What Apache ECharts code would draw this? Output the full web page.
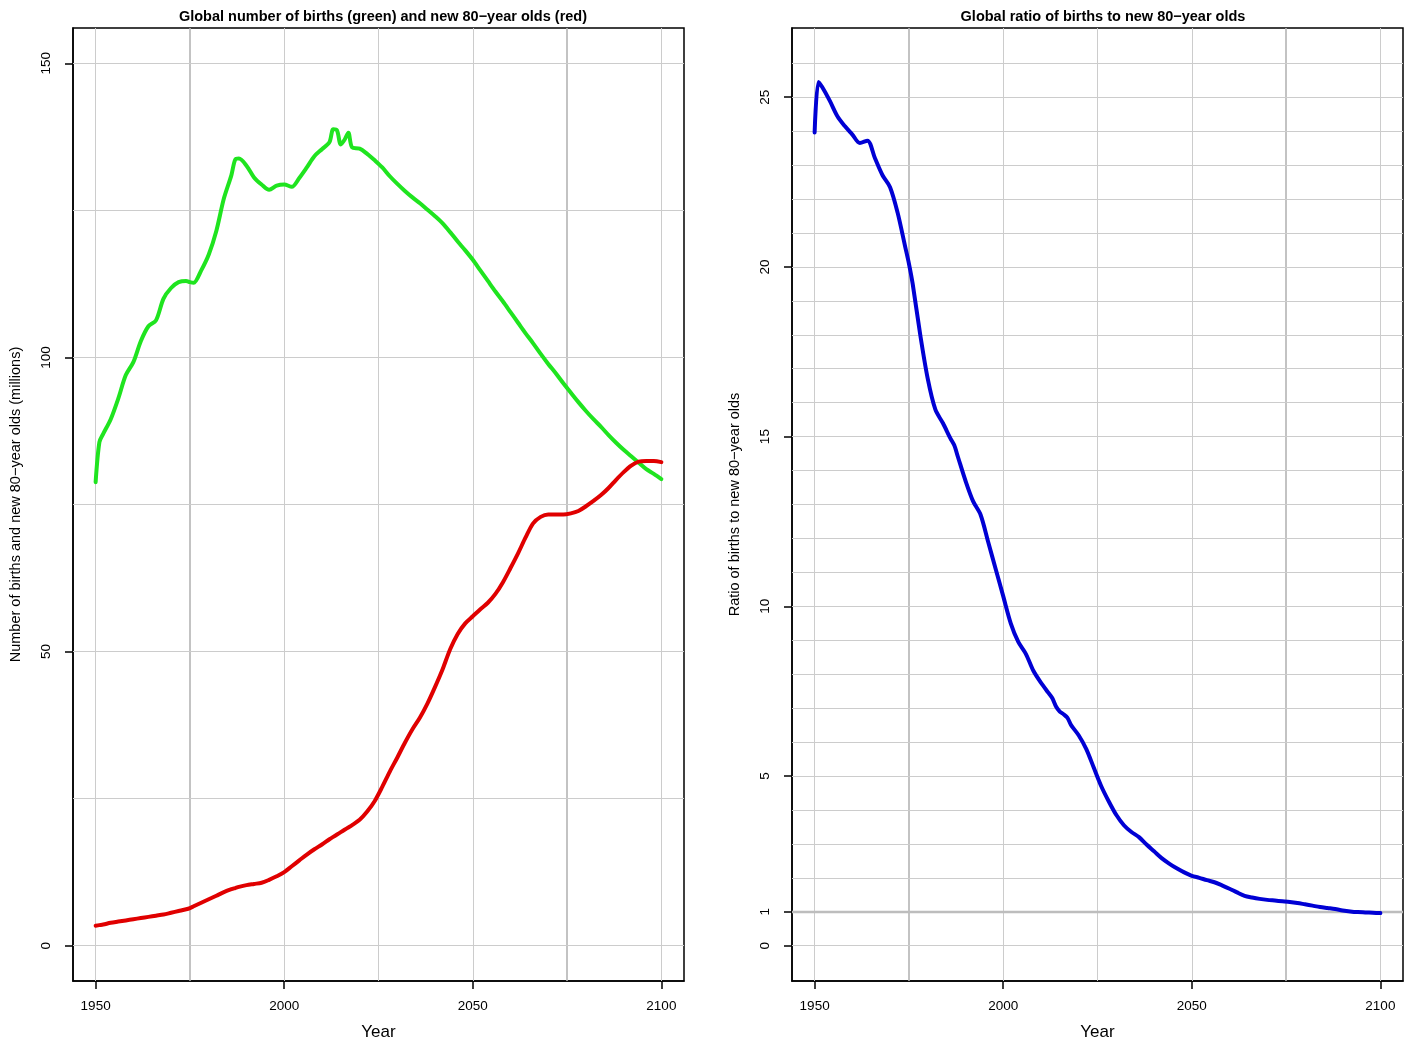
<!DOCTYPE html>
<html>
<head>
<meta charset="utf-8">
<script src="https://cdn.jsdelivr.net/npm/echarts@6/dist/echarts.min.js"></script>
<style>
html,body{margin:0;padding:0;background:#fff;}
#chart{width:1415px;height:1046px;}
</style>
</head>
<body>
<div id="chart"></div>
<script>
// ---- data ----
const years = [1950,1951,1952,1954,1956,1958,1960,1962,1964,1966,1968,1970,1972,1974,1975,1976,1978,1980,1982,1984,1986,1987,1988,1990,1992,1994,1996,1998,2000,2002,2004,2006,2008,2010,2012,2013,2014,2015,2016,2017,2018,2020,2022,2024,2026,2028,2030,2032,2034,2036,2038,2040,2042,2044,2046,2048,2050,2052,2054,2056,2058,2060,2062,2064,2066,2068,2070,2072,2074,2076,2078,2080,2082,2084,2086,2088,2090,2092,2094,2096,2098,2100];
const births = [78.8,85.6,87.0,89.5,93.0,97.0,99.2,102.8,105.3,106.3,110.0,111.8,112.8,113.0,112.8,112.7,114.8,117.5,121.5,127.0,131.0,133.6,133.8,132.6,130.6,129.4,128.5,129.2,129.4,129.0,130.5,132.3,134.2,135.4,136.6,138.8,138.6,136.2,137.0,138.2,135.7,135.5,134.6,133.5,132.3,130.8,129.5,128.3,127.2,126.2,125.1,124.0,122.8,121.3,119.7,118.2,116.6,114.8,113.0,111.2,109.5,107.7,105.9,104.1,102.4,100.6,98.9,97.3,95.6,94.0,92.4,90.9,89.5,88.2,86.8,85.5,84.3,83.2,82.1,81.0,80.2,79.3];
const eighty = [3.4,3.5,3.6,3.9,4.1,4.3,4.5,4.7,4.9,5.1,5.3,5.6,5.9,6.2,6.4,6.7,7.3,7.9,8.5,9.1,9.6,9.8,10.0,10.3,10.5,10.7,11.2,11.8,12.5,13.5,14.5,15.5,16.4,17.2,18.1,18.5,18.9,19.3,19.7,20.1,20.5,21.4,22.8,24.6,27.0,29.6,32.0,34.5,36.8,38.8,41.2,44.0,47.0,50.4,53.0,54.8,56.0,57.2,58.3,59.8,61.8,64.2,66.7,69.4,71.8,72.9,73.3,73.3,73.3,73.5,73.9,74.7,75.6,76.6,77.8,79.2,80.5,81.6,82.3,82.4,82.4,82.2];
const ratio = [23.96,25.45,25.3,24.9,24.45,24.15,23.9,23.65,23.72,23.2,22.7,22.35,21.6,20.6,20.1,19.5,18.0,16.7,15.8,15.4,14.95,14.75,14.4,13.7,13.1,12.7,11.9,11.1,10.3,9.5,8.95,8.6,8.1,7.75,7.45,7.3,7.05,6.9,6.82,6.72,6.5,6.2,5.8,5.25,4.7,4.25,3.85,3.55,3.35,3.2,2.98,2.78,2.58,2.42,2.28,2.16,2.06,2.0,1.93,1.87,1.78,1.68,1.57,1.47,1.42,1.38,1.35,1.33,1.31,1.29,1.26,1.22,1.18,1.14,1.11,1.08,1.04,1.01,0.99,0.98,0.97,0.96];

const xTickLabels = [1950,2000,2050,2100];
const yTickLabelsLeft = [0,50,100,150];
const yTickLabelsRight = [0,1,5,10,15,20,25];
const gridXValues = [1950,1975,2000,2025,2050,2075,2100];
const gridYLeft = [0,25,50,75,100,125,150];
const gridYRight = [0,1,2,3,4,5,6,7,8,9,10,11,12,13,14,15,16,17,18,19,20,21,22,23,24,25,26];

const titleLeft = 'Global number of births (green) and new 80\u2212year olds (red)';
const titleRight = 'Global ratio of births to new 80\u2212year olds';
const yNameLeft = 'Number of births and new 80\u2212year olds (millions)';
const yNameRight = 'Ratio of births to new 80\u2212year olds';
const xName = 'Year';

// ---- chart ----
const FONT = '"Liberation Sans", Arial, Helvetica, sans-serif';
const pairs = (xs, ys) => xs.map((x, i) => [x, ys[i]]);

function xAxisCfg(gridIndex) {
  return {
    type: 'value', gridIndex, min: 1944, max: 2106,
    name: xName, nameLocation: 'middle', nameGap: 43,
    nameTextStyle: { fontFamily: FONT, fontSize: 17, color: '#000' },
    axisLine: { show: true, onZero: false, lineStyle: { color: '#000', width: 1.5 } },
    axisTick: { show: true, inside: false, length: 8, customValues: xTickLabels, lineStyle: { color: '#000', width: 1.5 } },
    axisLabel: { show: true, customValues: xTickLabels, margin: 18, fontFamily: FONT, fontSize: 13.5, color: '#000',
      formatter: v => String(v) },
    splitLine: { show: false }
  };
}
function yAxisCfg(gridIndex, min, max, ticks, name) {
  return {
    type: 'value', gridIndex, min, max,
    name, nameLocation: 'middle', nameGap: 50, nameRotate: 90,
    nameTextStyle: { fontFamily: FONT, fontSize: 14.5, color: '#000' },
    axisLine: { show: true, onZero: false, lineStyle: { color: '#000', width: 1.5 } },
    axisTick: { show: true, inside: false, length: 8, customValues: ticks, lineStyle: { color: '#000', width: 1.5 } },
    axisLabel: { show: true, customValues: ticks, rotate: 90, margin: 20, fontFamily: FONT, fontSize: 13.5, color: '#000',
      formatter: v => String(v) },
    splitLine: { show: false }
  };
}
function gridLines(xIdx, yIdx, yVals, thick) {
  const data = [];
  gridXValues.forEach(v => data.push({ xAxis: v, lineStyle: { color: (v === 1975 || v === 2075) ? '#b4b4b4' : '#cccccc', width: (v === 1975 || v === 2075) ? 1.6 : 1 } }));
  yVals.forEach(v => data.push({ yAxis: v, lineStyle: { color: v === thick ? '#bdbdbd' : '#cccccc', width: v === thick ? 2.4 : 1 } }));
  return {
    type: 'line', xAxisIndex: xIdx, yAxisIndex: yIdx, data: [], z: 1, silent: true,
    markLine: { silent: true, symbol: ['none', 'none'], label: { show: false }, animation: false,
      lineStyle: { type: 'solid' }, emphasis: { disabled: true }, data }
  };
}
function lineSeries(xIdx, yIdx, data, color) {
  return {
    type: 'line', xAxisIndex: xIdx, yAxisIndex: yIdx, data, z: 5,
    showSymbol: false, symbol: 'none', smooth: 0.3, animation: false,
    lineStyle: { color, width: 4, cap: 'round', join: 'round' }
  };
}

const chart = echarts.init(document.getElementById('chart'), null, { renderer: 'canvas' });
chart.setOption({
  backgroundColor: '#fff',
  animation: false,
  title: [
    { text: titleLeft, left: 378, top: 4, textAlign: 'center', textStyle: { fontFamily: FONT, fontSize: 14.5, fontWeight: 'bold', color: '#000' } },
    { text: titleRight, left: 1098, top: 4, textAlign: 'center', textStyle: { fontFamily: FONT, fontSize: 14.5, fontWeight: 'bold', color: '#000' } }
  ],
  grid: [
    { left: 73, top: 28, width: 611, height: 955, show: true, borderColor: '#000', borderWidth: 1.5, backgroundColor: 'transparent', containLabel: false },
    { left: 792, top: 28, width: 611, height: 954, show: true, borderColor: '#000', borderWidth: 1.5, backgroundColor: 'transparent', containLabel: false }
  ],
  xAxis: [xAxisCfg(0), xAxisCfg(1)],
  yAxis: [
    yAxisCfg(0, -6, 156, yTickLabelsLeft, yNameLeft),
    yAxisCfg(1, -1.04, 27.04, yTickLabelsRight, yNameRight)
  ],
  series: [
    gridLines(0, 0, gridYLeft, null),
    gridLines(1, 1, gridYRight, 1),
    lineSeries(0, 0, pairs(years, births), '#1fe41f'),
    lineSeries(0, 0, pairs(years, eighty), '#e00000'),
    lineSeries(1, 1, pairs(years, ratio), '#0000d4')
  ]
});
</script>
</body>
</html>
